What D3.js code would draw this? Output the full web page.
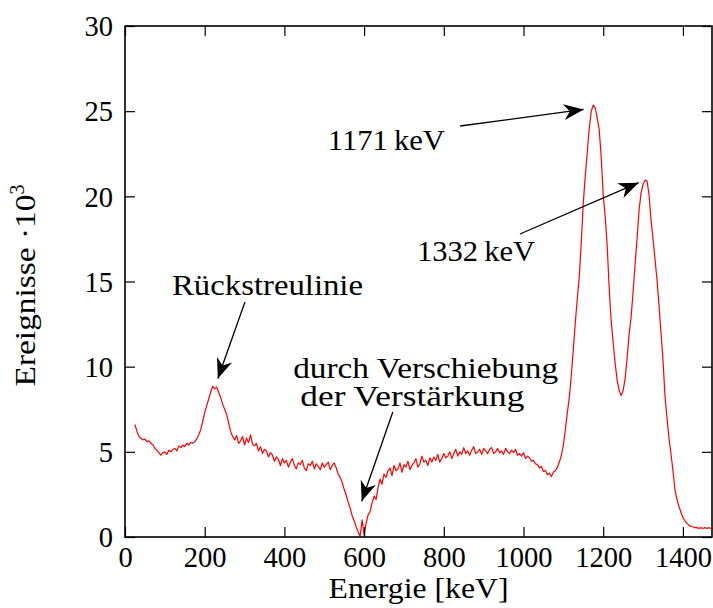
<!DOCTYPE html>
<html><head><meta charset="utf-8">
<script src="https://cdn.jsdelivr.net/npm/d3@7"></script>
<style>
body{margin:0;background:#fff}
text{font-family:"Liberation Serif","DejaVu Serif",serif;fill:#000}
</style></head><body>
<svg id="c" width="713" height="608"></svg>
<script>
// channel energies (keV), 5 keV spacing from 25 to 1475
const energies = d3.range(25, 1476, 5);
// counts in units of 10^3
const counts = [
  6.6,6.2,5.9,5.8,5.7,5.75,5.6,5.65,5.5,5.4,
  5.2,5.1,4.95,4.8,4.95,5.0,4.85,5.1,5.0,5.15,
  5.2,5.05,5.35,5.25,5.4,5.3,5.5,5.4,5.55,5.5,
  5.6,5.75,6.0,6.3,6.8,7.3,7.7,8.1,8.5,8.85,
  8.7,8.8,8.5,8.2,7.8,7.5,7.2,6.7,6.2,5.9,
  5.7,5.95,5.5,5.65,5.9,5.4,5.8,5.55,6.0,5.45,
  5.35,5.5,5.05,5.3,4.9,5.15,5.05,4.7,4.95,4.8,
  4.45,4.7,4.55,4.2,4.6,4.35,4.5,4.1,4.4,4.6,
  4.2,4.0,4.35,4.25,4.5,4.05,3.9,4.3,4.2,4.45,
  4.0,4.3,4.15,3.95,4.35,4.1,4.25,4.4,3.95,4.2,
  4.35,4.05,3.7,3.5,3.2,2.8,2.45,2.05,1.7,1.25,
  0.95,0.6,0.3,0.05,1.0,0.1,0.8,1.3,1.5,2.0,
  2.4,2.2,2.9,3.4,3.1,3.7,3.5,3.9,4.05,3.6,
  4.2,3.9,4.0,4.35,3.8,4.25,4.1,4.45,3.95,4.2,
  4.35,4.6,4.1,4.3,4.75,4.4,4.5,4.2,4.65,4.4,
  4.7,4.5,4.85,4.4,4.6,4.9,4.65,4.75,5.0,4.6,
  4.9,5.15,4.75,5.0,4.85,5.25,4.9,5.05,4.8,5.1,
  5.3,4.9,5.0,5.15,4.85,5.2,5.05,4.9,5.15,5.25,
  4.9,5.0,5.2,4.95,5.05,4.85,5.2,5.0,4.9,5.1,
  4.95,5.15,4.8,4.9,4.75,4.95,4.6,4.75,4.65,4.45,
  4.5,4.3,4.25,4.05,4.15,3.85,3.9,3.65,3.75,3.55,
  3.8,3.9,4.1,4.4,4.8,5.4,6.3,7.3,8.2,9.5,
  11.0,12.6,14.0,15.3,17.3,19.6,21.2,22.6,24.0,25.0,
  25.35,25.2,24.6,23.9,22.3,20.1,18.8,17.1,14.6,12.7,
  11.4,10.2,9.2,8.6,8.3,8.6,9.3,10.5,11.9,12.9,
  14.4,16.0,17.5,19.2,20.2,20.7,20.95,20.9,20.1,18.6,
  17.5,16.3,15.1,13.6,12.0,10.4,8.3,7.0,5.8,4.9,
  3.9,2.8,2.2,1.8,1.45,1.15,0.95,0.8,0.7,0.62,
  0.6,0.55,0.55,0.5,0.55,0.5,0.55,0.5,0.55,0.5,
  0.5
];
const xTicks = [0,200,400,600,800,1000,1200,1400];
const yTicks = [0,5,10,15,20,25,30];
// annotations: label lines, text anchor (data coords), arrow from/to (data coords)
const annoLabels = [["1171\u2009keV"],["1332\u2009keV"],["Rückstreulinie"],["durch Verschiebung","der Verstärkung"]];
const annoWidths = [[117],[118],[191],[265,224]];
const annoText = [[509,22.7],[733,16.2],[118,14.2],[422,9.33]];
const annoLineOffsets = [[0],[0],[0],[0,2]];
const annoFrom = [[841,24.13],[991,17.79],[301,13.8],[672,7.34]];
const annoTo = [[1151,25.1],[1289,20.8],[233,9.3],[594,2.1]];

const svg = d3.select("#c");
const L=125, R=712, T=26, B=537;
const x = d3.scaleLinear().domain([0,1473]).range([L,R]);
const y = d3.scaleLinear().domain([0,30]).range([B,T]);
const FS = 28.5;

// data line
const data = energies.map((e,i)=>[e,counts[i]]).filter(d=>d[1]!==undefined);
svg.append("path").datum(data)
  .attr("fill","none").attr("stroke","#ff0000").attr("stroke-width",1.2)
  .attr("stroke-linejoin","round")
  .attr("d", d3.line().x(d=>x(d[0])).y(d=>y(d[1])));

// axes
const tl = 10;
const fmt = d3.format("d");
const gx = svg.append("g").attr("transform",`translate(0,${B})`)
  .call(d3.axisBottom(x).tickValues(xTicks).tickFormat(fmt).tickSizeInner(-tl).tickSizeOuter(0).tickPadding(14));
const gxt = svg.append("g").attr("transform",`translate(0,${T})`)
  .call(d3.axisTop(x).tickValues(xTicks).tickSizeInner(-tl).tickSizeOuter(0).tickFormat(""));
const gy = svg.append("g").attr("transform",`translate(${L},0)`)
  .call(d3.axisLeft(y).tickValues(yTicks).tickFormat(fmt).tickSizeInner(-tl).tickSizeOuter(0).tickPadding(12));
const gyr = svg.append("g").attr("transform",`translate(${R},0)`)
  .call(d3.axisRight(y).tickValues(yTicks).tickSizeInner(-tl).tickSizeOuter(0).tickFormat(""));
[gx,gxt,gy,gyr].forEach(g=>{
  g.select(".domain").remove();
  g.selectAll("line").attr("stroke","#000").attr("stroke-width",1.2);
  g.selectAll("text").attr("font-size",FS).attr("font-family",'"Liberation Serif",serif').attr("fill","#000");
});
gx.selectAll("text").attr("dy","0.71em").attr("y",10);
gy.selectAll("text").attr("dy","0.34em");
// box frame
svg.append("rect").attr("x",L).attr("y",T).attr("width",R-L).attr("height",B-T)
  .attr("fill","none").attr("stroke","#000").attr("stroke-width",1.6);

// axis titles
svg.append("text").attr("x",(L+R)/2).attr("y",598).attr("text-anchor","middle")
  .attr("font-size",FS).attr("textLength",180).attr("lengthAdjust","spacingAndGlyphs")
  .text("Energie [keV]");
const yl = svg.append("text").attr("transform",`translate(35,${(T+B)/2+4}) rotate(-90)`)
  .attr("text-anchor","middle").attr("font-size",FS);
yl.append("tspan").attr("textLength",192).attr("lengthAdjust","spacingAndGlyphs").text("Ereignisse ·10");
yl.append("tspan").attr("font-size",FS*0.7).attr("dy",-11).text("3");

// annotations
function arrow(x1,y1,x2,y2){
  svg.append("line").attr("x1",x1).attr("y1",y1).attr("x2",x2).attr("y2",y2)
    .attr("stroke","#000").attr("stroke-width",1.3);
  const a = Math.atan2(y2-y1,x2-x1)*180/Math.PI;
  svg.append("path").attr("d","M0,0 L-20,-8 L-14,0 L-20,8 Z")
    .attr("transform",`translate(${x2},${y2}) rotate(${a})`).attr("fill","#000");
}
annoLabels.forEach((lines,i)=>{
  lines.forEach((t,j)=>{
    svg.append("text").attr("x",x(annoText[i][0]+annoLineOffsets[i][j]*9))
      .attr("y",y(annoText[i][1])+j*28).attr("font-size",FS)
      .attr("textLength",annoWidths[i][j]).attr("lengthAdjust","spacingAndGlyphs").text(t);
  });
  arrow(x(annoFrom[i][0]),y(annoFrom[i][1]),x(annoTo[i][0]),y(annoTo[i][1]));
});
</script>
</body></html>
